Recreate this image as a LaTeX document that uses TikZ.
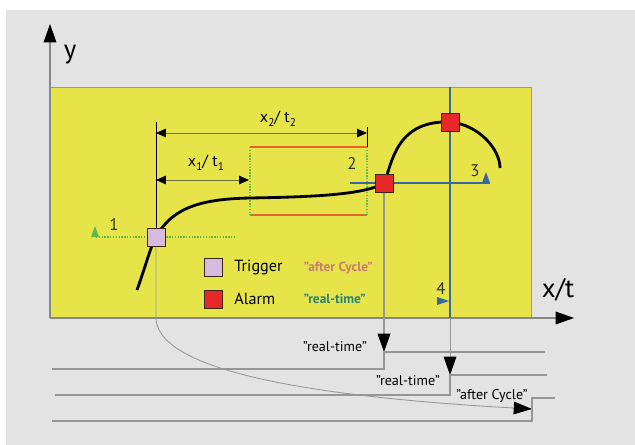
\documentclass[tikz,border=0pt]{standalone}
\usepackage{fontspec}
\setmainfont{PT Sans}
\usepackage{tikz}
\usetikzlibrary{positioning,arrows.meta}
\usepackage{xcolor}
\definecolor{panel}{RGB}{226,227,226}
\definecolor{field}{RGB}{231,228,74}
\definecolor{fieldrim}{RGB}{160,160,100}
\definecolor{axisgray}{RGB}{135,135,135}
\definecolor{wiregray}{RGB}{150,150,150}
\definecolor{dimolive}{RGB}{110,110,60}
\definecolor{band}{RGB}{232,99,43}
\definecolor{dotgreen}{RGB}{95,185,70}
\definecolor{cursor}{RGB}{55,105,160}
\definecolor{alarmred}{RGB}{230,40,40}
\definecolor{triglilac}{RGB}{216,186,222}
\definecolor{cyclepink}{RGB}{200,125,110}
\definecolor{rtteal}{RGB}{40,130,120}
\newcommand{\lowsub}[1]{\raisebox{-0.45ex}{\footnotesize #1}}
\pgfdeclarelayer{front}
\pgfsetlayers{main,front}

\begin{document}
\begin{tikzpicture}[x=0.025cm, y=-0.025cm, font=\fontsize{11.5}{13}\selectfont,
  bigtip/.style={-{Triangle[length=13pt,width=9pt,color=black]}},
  dimtips/.style={{Triangle[length=7pt,width=6pt,color=black]}-{Triangle[length=7pt,width=6pt,color=black]}},
  marker/.style={draw=black!70!brown, line width=0.6pt, minimum size=0.45cm, inner sep=0pt},
  signal/.style={draw=wiregray, line width=0.9pt},
  tag/.style={font=\fontsize{10}{11}\selectfont},
  keytag/.style={font=\fontsize{9.5}{10}\selectfont\bfseries, anchor=west},
  num/.style={font=\fontsize{12}{13}\selectfont, text=black!80}]
  \useasboundingbox (0,0) rectangle (635,445);
  \fill[white] (0,0) rectangle (635,445);
  \fill[panel] (6,10) rectangle (635,445);
  \filldraw[fill=field, draw=fieldrim, line width=0.6pt] (50,87) rectangle (531,318);

  % squares on top of every line
  \begin{pgfonlayer}{front}
    \node[marker, fill=triglilac] (trig) at (156,237) {};
    \node[marker, fill=alarmred] (almA) at (384,183) {};
    \node[marker, fill=alarmred] (almB) at (450,122) {};
    \node[marker, fill=triglilac] (keyT) at (213,267) {};
    \node[marker, fill=alarmred] (keyA) at (213,299) {};
  \end{pgfonlayer}

  % axes
  \draw[axisgray, line width=0.8pt, bigtip] (50,318) -- (50,24);
  \draw[axisgray, line width=0.8pt, bigtip] (50,318) -- (574,318);
  \node (ylab) at (70,55) {\fontsize{19}{19}\selectfont y};
  \node (xlab) at (558,290) {\fontsize{19}{19}\selectfont x/t};

  % window 2
  \draw[band, line width=1.2pt] (250,147) -- (367,147) (250,215) -- (367,215);
  \draw[dotgreen, densely dotted, line width=1pt] (250,147) -- (250,215) (367,147) -- (367,215) (96,237) -- (235,237);
  \draw[black, line width=0.6pt] (367,127) -- (367,147);
  \draw[black, line width=0.6pt] (156,122) -- (trig);
  \draw[dimolive, line width=0.6pt, dimtips] (156,133) -- (367,133);
  \draw[dimolive, line width=0.6pt, dimtips] (156,180) -- (249,180);
  \node (dimtwo) at (278,119) {x\lowsub{2}/ t\lowsub{2}};
  \node (dimone) at (206,163) {x\lowsub{1}/ t\lowsub{1}};

  % cursors 3 and 4
  \draw[cursor, line width=1pt] (350,183) -- (490,183);
  \draw[cursor, line width=1.2pt] (450,87) -- (450,318);

  % measured curve
  \draw[black, line width=2pt] (137,290) .. controls (147,262) and (150,248) .. (156,237)
    .. controls (172,208) and (200,199) .. (250,198)
    .. controls (310,197) and (365,195) .. (384,183)
    .. controls (392,165) and (395,120) .. (450,122)
    .. controls (480,125) and (500,150) .. (500,168);

  % threshold marks
  \fill[dotgreen] (91,237) -- (99,237) -- (95,226) -- cycle;
  \fill[cursor] (482,183) -- (490,183) -- (486,172) -- cycle;
  \fill[cursor] (437,297) -- (437,305) -- (449,301) -- cycle;
  \node[num] (nOne) at (114,224) {1};
  \node[num] (nTwo) at (352,163) {2};
  \node[num] (nThree) at (475,171) {3};
  \node[num] (nFour) at (441,288) {4};

  % legend
  \node[right=5pt of keyT] (txtT) {Trigger};
  \node[right=5pt of keyA] (txtA) {Alarm};
  \node[keytag, text=cyclepink] (modeT) at (299,268) {"after Cycle"};
  \node[keytag, text=rtteal] (modeA) at (299,299) {"real-time"};

  % output signals
  \draw[signal, bigtip] (almA) -- (384,352);
  \draw[signal, line width=0.6pt, bigtip] (450,318) -- (450,375);
  \draw[signal, line width=0.6pt, bigtip] (trig) -- (156,318) .. controls (157,365) and (280,395) .. (532,409);
  \draw[signal] (545,352) -- (384,352) -- (384,369) -- (52,369);
  \draw[signal] (547,375) -- (450,375) -- (450,395) -- (55,395);
  \draw[signal] (555,398) -- (532,398) -- (532,421) -- (52,421);
  \node[tag] (rtA) at (335,347) {"real-time"};
  \node[tag] (rtB) at (408,381) {"real-time"};
  \node[tag] (acC) at (492,396) {"after Cycle"};
\end{tikzpicture}
\end{document}
